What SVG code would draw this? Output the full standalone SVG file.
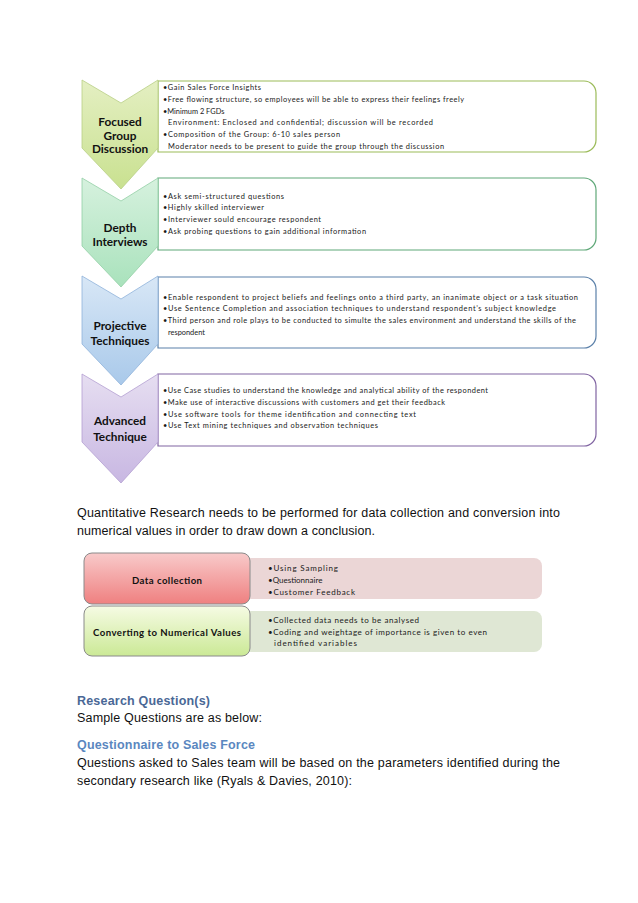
<svg xmlns="http://www.w3.org/2000/svg" width="638" height="903" viewBox="0 0 638 903">
<defs>
<linearGradient id="g1" x1="0" y1="0" x2="0" y2="1"><stop offset="0" stop-color="#e4efc2"/><stop offset="1" stop-color="#c9e190"/></linearGradient>
<linearGradient id="g2" x1="0" y1="0" x2="0" y2="1"><stop offset="0" stop-color="#d6f1de"/><stop offset="1" stop-color="#a9e2bc"/></linearGradient>
<linearGradient id="g3" x1="0" y1="0" x2="0" y2="1"><stop offset="0" stop-color="#d8e7f6"/><stop offset="1" stop-color="#a9c9ea"/></linearGradient>
<linearGradient id="g4" x1="0" y1="0" x2="0" y2="1"><stop offset="0" stop-color="#e6def1"/><stop offset="1" stop-color="#c8b7e2"/></linearGradient>
<linearGradient id="gr" x1="0" y1="0" x2="0" y2="1"><stop offset="0" stop-color="#f8caca"/><stop offset="1" stop-color="#ef8080"/></linearGradient>
<linearGradient id="gg" x1="0" y1="0" x2="0" y2="1"><stop offset="0" stop-color="#f6fbe4"/><stop offset="1" stop-color="#cbe996"/></linearGradient>
</defs>
<style>
.lbl{font-family:Lato,"Open Sans","Liberation Sans",sans-serif;font-weight:bold;font-size:11.8px;fill:#111;text-anchor:middle}
.bt{font-family:Lato,"Open Sans","Liberation Sans",sans-serif;font-size:7.4px;fill:#1a1a1a}
.st{font-family:Lato,"Open Sans","Liberation Sans",sans-serif;font-size:8px;fill:#1a1a1a}
.sl{font-family:Lato,"Open Sans","Liberation Sans",sans-serif;font-size:9.6px;font-weight:bold;fill:#111;text-anchor:middle}
.p{font-family:"Liberation Sans",Arial,sans-serif;font-size:12.5px;fill:#111}
.h1{font-family:"Liberation Sans",Arial,sans-serif;font-size:12.5px;font-weight:bold;fill:#4a6896}
.h2{font-family:"Liberation Sans",Arial,sans-serif;font-size:12.5px;font-weight:bold;fill:#5a87c0}
.box{fill:#fff;stroke-width:1.2}
.chev{stroke-width:0.8}
</style>

<g id="node-fgd">
<path class="box" stroke="#9bbb59" d="M158,81 H584 A12,12 0 0 1 596,93 V140 A12,12 0 0 1 584,152 H158 Z"/>
<path class="chev" fill="url(#g1)" stroke="#b9cf86" d="M82,80 L121,103 L158,80 L158,148 L121,189 L82,148 Z"/>
<text class="lbl" x="120" y="126">Focused</text>
<text class="lbl" x="120" y="139.5">Group</text>
<text class="lbl" x="120" y="153">Discussion</text>
<text class="bt" x="163" y="90" textLength="98">•Gain Sales Force Insights</text>
<text class="bt" x="163" y="101.8" textLength="301">•Free flowing structure, so employees will be able to express their feelings freely</text>
<text class="bt" x="163" y="113.6">•Minimum 2 FGDs</text>
<text class="bt" x="168" y="125.4" textLength="265">Environment: Enclosed and confidential; discussion will be recorded</text>
<text class="bt" x="163" y="137.2" textLength="177">•Composition of the Group: 6-10 sales person</text>
<text class="bt" x="168" y="149" textLength="276">Moderator needs to be present to guide the group through the discussion</text>
</g>

<g id="node-depth">
<path class="box" stroke="#5fa878" d="M158,178 H584 A12,12 0 0 1 596,190 V238 A12,12 0 0 1 584,250 H158 Z"/>
<path class="chev" fill="url(#g2)" stroke="#93cfa6" d="M82,178 L121,201 L158,178 L158,246 L121,287 L82,246 Z"/>
<text class="lbl" x="120" y="232">Depth</text>
<text class="lbl" x="120" y="246">Interviews</text>
<text class="bt" x="163" y="198.5" textLength="121">•Ask semi-structured questions</text>
<text class="bt" x="163" y="210.3" textLength="101">•Highly skilled interviewer</text>
<text class="bt" x="163" y="222.1" textLength="158">•Interviewer sould encourage respondent</text>
<text class="bt" x="163" y="233.9" textLength="203">•Ask probing questions to gain additional information</text>
</g>

<g id="node-projective">
<path class="box" stroke="#5b80a9" d="M158,277 H584 A12,12 0 0 1 596,289 V336 A12,12 0 0 1 584,348 H158 Z"/>
<path class="chev" fill="url(#g3)" stroke="#8fb3da" d="M82,276 L121,299 L158,276 L158,344 L121,385 L82,344 Z"/>
<text class="lbl" x="120" y="330">Projective</text>
<text class="lbl" x="120" y="345">Techniques</text>
<text class="bt" x="163" y="299.5" textLength="415">•Enable respondent to project beliefs and feelings onto a third party, an inanimate object or a task situation</text>
<text class="bt" x="163" y="311.3" textLength="393">•Use Sentence Completion and association techniques to understand respondent’s subject knowledge</text>
<text class="bt" x="163" y="323.1" textLength="413">•Third person and role plays to be conducted to simulte the sales environment and understand the skills of the</text>
<text class="bt" x="168" y="334.9">respondent</text>
</g>

<g id="node-advanced">
<path class="box" stroke="#8064a2" d="M158,374 H584 A12,12 0 0 1 596,386 V434 A12,12 0 0 1 584,446 H158 Z"/>
<path class="chev" fill="url(#g4)" stroke="#b4a0d2" d="M82,374 L121,397 L158,374 L158,442 L121,483 L82,442 Z"/>
<text class="lbl" x="120" y="425">Advanced</text>
<text class="lbl" x="120" y="441">Technique</text>
<text class="bt" x="163" y="393" textLength="325">•Use Case studies to understand the knowledge and analytical ability of the respondent</text>
<text class="bt" x="163" y="404.8" textLength="282">•Make use of interactive discussions with customers and get their feedback</text>
<text class="bt" x="163" y="416.6" textLength="253">•Use software tools for theme identification and connecting text</text>
<text class="bt" x="163" y="428.4" textLength="215">•Use Text mining techniques and observation techniques</text>
</g>

<text class="p" x="77" y="516.5" textLength="483">Quantitative Research needs to be performed for data collection and conversion into</text>
<text class="p" x="77" y="534.5" textLength="298">numerical values in order to draw down a conclusion.</text>

<g id="node-data-collection">
<rect x="243" y="558" width="299" height="41" rx="8" fill="#ebd6d6"/>
<rect x="84" y="553" width="166" height="51" rx="8" fill="url(#gr)" stroke="#8a8a8a" stroke-width="1"/>
<text class="sl" x="167" y="583.5" textLength="70">Data collection</text>
<text class="st" x="268" y="570.8" textLength="70">•Using Sampling</text>
<text class="st" x="268" y="582.8">•Questionnaire</text>
<text class="st" x="268" y="594.8" textLength="87">•Customer Feedback</text>
</g>

<g id="node-converting">
<rect x="243" y="611" width="299" height="41" rx="8" fill="#dfe7d4"/>
<rect x="84" y="606" width="166" height="50" rx="8" fill="url(#gg)" stroke="#8a8a8a" stroke-width="1"/>
<text class="sl" x="167" y="635.5" textLength="148">Converting to Numerical Values</text>
<text class="st" x="268" y="622.8" textLength="151">•Collected data needs to be analysed</text>
<text class="st" x="268" y="634.8" textLength="219">•Coding and weightage of importance is given to even</text>
<text class="st" x="274" y="645.8" textLength="83">identified variables</text>
</g>

<g id="connectors"></g>

<text class="h1" x="77" y="704.5" textLength="133">Research Question(s)</text>
<text class="p" x="77" y="721.5" textLength="185">Sample Questions are as below:</text>
<text class="h2" x="77" y="748.5" textLength="178">Questionnaire to Sales Force</text>
<text class="p" x="77" y="766.5" textLength="483">Questions asked to Sales team will be based on the parameters identified during the</text>
<text class="p" x="77" y="784.5" textLength="275">secondary research like (Ryals &amp; Davies, 2010):</text>
</svg>
